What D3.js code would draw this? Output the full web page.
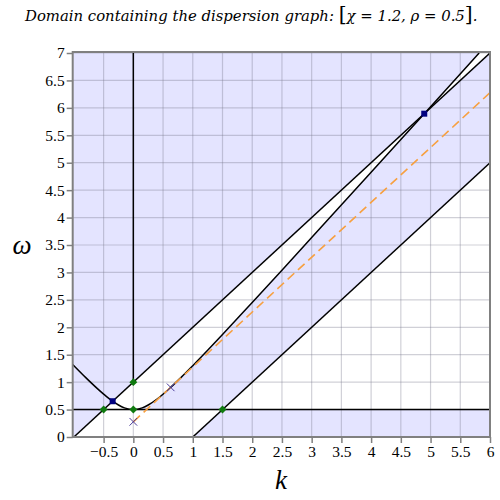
<!DOCTYPE html>
<html>
<head>
<meta charset="utf-8">
<script src="https://cdn.jsdelivr.net/npm/d3@7"></script>
<style>
  body { margin: 0; background: #fff; }
  .serif { font-family: "Liberation Serif", "Times New Roman", Times, serif; }
  .title { font-family: "DejaVu Serif", "Liberation Serif", serif; font-style: italic; }
</style>
</head>
<body>
<div class="svg-content"></div>
<script>
// parameters from the title
const chi = 1.2;
const rho = 0.5;

const kTicks = [-0.5, 0, 0.5, 1, 1.5, 2, 2.5, 3, 3.5, 4, 4.5, 5, 5.5, 6];
const wTicks = [0, 0.5, 1, 1.5, 2, 2.5, 3, 3.5, 4, 4.5, 5, 5.5, 6, 6.5, 7];

// dispersion curve
const curveK = [-1.02, -0.8, -0.6, -0.45, -0.348, -0.25, -0.15, 0, 0.15, 0.25, 0.4, 0.628, 0.8, 1, 1.25, 1.5, 2, 2.5, 3, 4, 4.894, 5.4, 5.818];
const curveW = [1.322, 1.082, 0.877, 0.736, 0.652, 0.583, 0.531, 0.5, 0.531, 0.583, 0.693, 0.905, 1.082, 1.3, 1.581, 1.868, 2.452, 3.041, 3.635, 4.826, 5.894, 6.499, 7.0];

// straight lines [k, omega]
const upperLine = [[-1, 0], [6, 7]];
const lowerLine = [[1, 0], [6, 5]];
const cutoffLine = [[-1.02, 0.5], [6, 0.5]];
const verticalLine = [[0, 1], [0, 7]];
const tangentLine = [[0, 0.277], [6, 6.277]];

// markers
const greenPts = [[-0.5, 0.5], [0, 1], [0, 0.5], [1.5, 0.5]];
const bluePts = [[-0.348, 0.652], [4.894, 5.894]];
const crossPts = [[0, 0.277], [0.628, 0.905]];

const svgWidth = 500;
const svgHeight = 500;
const plotLeft = 72.7, plotRight = 490, plotTop = 53, plotBottom = 437;

const svg = d3.select(".svg-content")
  .append("svg")
  .attr("width", svgWidth)
  .attr("height", svgHeight)
  .style("display", "block");

const x = d3.scaleLinear().domain([-1.02, 6]).range([plotLeft, plotRight]);
const y = d3.scaleLinear().domain([0, 7]).range([plotBottom, plotTop]);

svg.append("clipPath").attr("id", "plot-clip")
  .append("rect")
  .attr("x", plotLeft).attr("y", plotTop)
  .attr("width", plotRight - plotLeft).attr("height", plotBottom - plotTop);

const curvePts = curveK.map((k, i) => [k, curveW[i]]);
const line = d3.line().x(d => x(d[0])).y(d => y(d[1]));
const smooth = d3.line().x(d => x(d[0])).y(d => y(d[1])).curve(d3.curveMonotoneX);
const pt = d => x(d[0]) + "," + y(d[1]);

const plot = svg.append("g").attr("clip-path", "url(#plot-clip)");

// shaded domain
const kMin = x.domain()[0];
const upperBranch = curvePts.filter(d => d[0] >= bluePts[1][0]);
const lowerBranch = curvePts.filter(d => d[0] >= 0 && d[0] <= bluePts[1][0]);

const region1 = "M" + pt([kMin, 0]) + "L" + pt(upperLine[0]) + "L" + pt(bluePts[1]) +
  smooth(upperBranch).replace(/^M/, "L") + "L" + pt([kMin, 7]) + "Z";
const region2 = smooth(lowerBranch) + "L" + pt(upperLine[1]) + "L" + pt(lowerLine[1]) +
  "L" + pt(greenPts[3]) + "Z";
const region3 = "M" + pt(lowerLine[0]) + "L" + pt(greenPts[3]) + "L" + pt(cutoffLine[1]) +
  "L" + pt([6, 0]) + "Z";

plot.selectAll("path.region")
  .data([region1, region2, region3])
  .enter()
  .append("path")
  .attr("class", "region")
  .attr("d", d => d)
  .attr("fill", "#e4e4ff");

// grid
plot.selectAll("line.vgrid")
  .data(kTicks)
  .enter()
  .append("line")
  .attr("x1", d => x(d)).attr("x2", d => x(d))
  .attr("y1", plotTop).attr("y2", plotBottom)
  .attr("stroke", "rgba(120,120,140,0.35)")
  .attr("stroke-width", 1.2);

plot.selectAll("line.hgrid")
  .data(wTicks.slice(1))
  .enter()
  .append("line")
  .attr("x1", plotLeft).attr("x2", plotRight)
  .attr("y1", d => y(d)).attr("y2", d => y(d))
  .attr("stroke", "rgba(120,120,140,0.35)")
  .attr("stroke-width", 1.2);

// black lines
plot.selectAll("path.bline")
  .data([upperLine, lowerLine, cutoffLine, verticalLine])
  .enter()
  .append("path")
  .attr("d", line)
  .attr("fill", "none")
  .attr("stroke", "#000")
  .attr("stroke-width", 1.5);

plot.append("path")
  .attr("d", smooth(curvePts))
  .attr("fill", "none")
  .attr("stroke", "#000")
  .attr("stroke-width", 1.5);

// tangent (group velocity) line
plot.append("path")
  .attr("d", line(tangentLine))
  .attr("fill", "none")
  .attr("stroke", "#f7a040")
  .attr("stroke-width", 1.6)
  .attr("stroke-dasharray", "9,5");

// markers
plot.selectAll("rect.green")
  .data(greenPts)
  .enter()
  .append("rect")
  .attr("x", -2.8).attr("y", -2.8)
  .attr("width", 5.6).attr("height", 5.6)
  .attr("transform", d => "translate(" + pt(d) + ") rotate(45)")
  .attr("fill", "#0f7a0f");

plot.selectAll("rect.blue")
  .data(bluePts)
  .enter()
  .append("rect")
  .attr("x", d => x(d[0]) - 3).attr("y", d => y(d[1]) - 3)
  .attr("width", 6).attr("height", 6)
  .attr("fill", "#000080");

plot.selectAll("path.cross")
  .data(crossPts)
  .enter()
  .append("path")
  .attr("d", d3.symbol(d3.symbolX, 40))
  .attr("transform", d => "translate(" + pt(d) + ")")
  .attr("stroke", "#4a3a9a")
  .attr("stroke-width", 1)
  .attr("fill", "none");

// frame
svg.append("rect")
  .attr("x", plotLeft).attr("y", plotTop - 1)
  .attr("width", plotRight - plotLeft).attr("height", plotBottom - plotTop + 1)
  .attr("fill", "none")
  .attr("stroke", "#808080")
  .attr("stroke-width", 2);

// axes
const xAxis = d3.axisBottom(x)
  .tickValues(kTicks)
  .tickSize(6)
  .tickPadding(3)
  .tickFormat(d => d < 0 ? "\u2212" + Math.abs(d) : String(d));
const yAxis = d3.axisLeft(y)
  .tickValues(wTicks)
  .tickSize(6)
  .tickPadding(2)
  .tickFormat(d => String(d));

const gx = svg.append("g")
  .attr("transform", "translate(0," + plotBottom + ")")
  .call(xAxis);
const gy = svg.append("g")
  .attr("transform", "translate(" + plotLeft + ",0)")
  .call(yAxis);

[gx, gy].forEach(g => {
  g.attr("font-family", null).attr("font-size", 15.5).attr("class", "serif");
  g.select(".domain").remove();
  g.selectAll(".tick line").attr("stroke", "#808080").attr("stroke-width", 1.5);
  g.selectAll(".tick text").attr("fill", "#000");
});

// axis labels
svg.append("text")
  .attr("class", "serif")
  .attr("x", 22).attr("y", 254)
  .attr("text-anchor", "middle")
  .attr("font-style", "italic")
  .attr("font-size", 27)
  .text("\u03c9");

svg.append("text")
  .attr("class", "serif")
  .attr("x", 281).attr("y", 489)
  .attr("text-anchor", "middle")
  .attr("font-style", "italic")
  .attr("font-size", 27)
  .text("k");

// title, sized to span the same width as the original
const title = svg.append("text")
  .attr("class", "title")
  .attr("x", 25).attr("y", 21)
  .attr("font-size", 14);
title.append("tspan").text("Domain containing the dispersion graph:  ");
title.append("tspan").attr("font-style", "normal").attr("font-size", 19).text("[");
title.append("tspan").text("\u03c7 = " + chi + ", \u03c1 = " + rho);
title.append("tspan").attr("font-style", "normal").attr("font-size", 19).text("]");
title.append("tspan").text(".");

const titleWidth = title.node().getComputedTextLength();
const scaleF = 453 / titleWidth;
title.attr("font-size", 14 * scaleF);
title.selectAll("tspan").filter(function () { return this.getAttribute("font-size"); })
  .attr("font-size", 19 * scaleF);
</script>
</body>
</html>
